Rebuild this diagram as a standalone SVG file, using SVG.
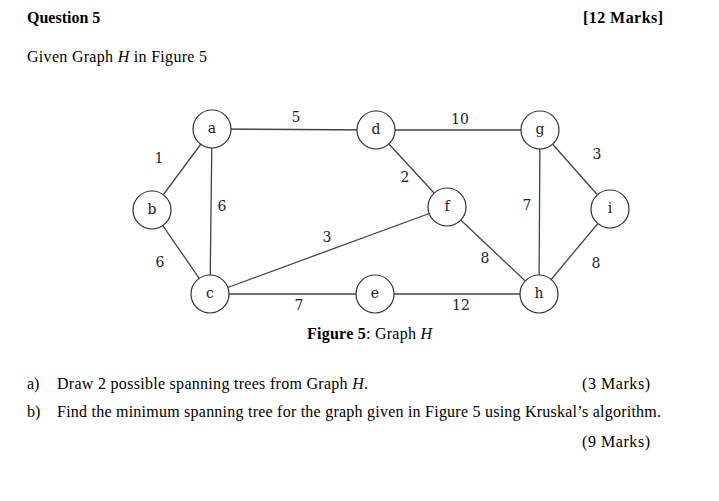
<svg xmlns="http://www.w3.org/2000/svg" width="719" height="501" viewBox="0 0 719 501">
<style>
.t{font-family:"Liberation Serif","Times New Roman",serif;font-size:16px;fill:#000}
.b{font-weight:bold}
.n circle{fill:#fff;stroke:#333;stroke-width:1.2}
.n text,.w{font-family:"DejaVu Serif",serif;font-size:14px;fill:#222;text-anchor:middle}
.e line{stroke:#444;stroke-width:1.3}
</style>
<rect width="719" height="501" fill="#fff"/>
<text class="t b" x="27" y="23">Question 5</text>
<text class="t b" x="663" y="23" text-anchor="end" textLength="80">[12 Marks]</text>
<text class="t" x="27" y="62" textLength="180">Given Graph <tspan font-style="italic">H</tspan> in Figure 5</text>
<g class="e" id="edges">
<line x1="212" y1="129" x2="376" y2="130"/>
<line x1="376" y1="130" x2="540" y2="130"/>
<line x1="212" y1="129" x2="152" y2="210"/>
<line x1="152" y1="210" x2="210" y2="294"/>
<line x1="212" y1="129" x2="210" y2="294"/>
<line x1="210" y1="294" x2="447" y2="207"/>
<line x1="210" y1="294" x2="375" y2="294"/>
<line x1="375" y1="294" x2="539" y2="294"/>
<line x1="376" y1="130" x2="447" y2="207"/>
<line x1="447" y1="207" x2="539" y2="294"/>
<line x1="540" y1="130" x2="539" y2="294"/>
<line x1="540" y1="130" x2="610" y2="209"/>
<line x1="610" y1="209" x2="539" y2="294"/>
</g>
<g id="weights">
<text class="w" x="296" y="122">5</text>
<text class="w" x="460" y="124">10</text>
<text class="w" x="159" y="163">1</text>
<text class="w" x="222" y="211">6</text>
<text class="w" x="160" y="267">6</text>
<text class="w" x="327" y="242">3</text>
<text class="w" x="299" y="310">7</text>
<text class="w" x="405" y="182">2</text>
<text class="w" x="597" y="159">3</text>
<text class="w" x="527" y="210">7</text>
<text class="w" x="485" y="263">8</text>
<text class="w" x="596" y="268">8</text>
<text class="w" x="461" y="310">12</text>
</g>
<g class="n" id="node-a"><circle cx="212" cy="129" r="19"/><text x="212" y="133">a</text></g>
<g class="n" id="node-b"><circle cx="152" cy="210" r="19"/><text x="152" y="214">b</text></g>
<g class="n" id="node-c"><circle cx="210" cy="294" r="19"/><text x="210" y="298">c</text></g>
<g class="n" id="node-d"><circle cx="376" cy="130" r="19"/><text x="376" y="134">d</text></g>
<g class="n" id="node-e"><circle cx="375" cy="294" r="19"/><text x="375" y="298">e</text></g>
<g class="n" id="node-f"><circle cx="447" cy="207" r="19"/><text x="447" y="211">f</text></g>
<g class="n" id="node-g"><circle cx="540" cy="130" r="19"/><text x="540" y="134">g</text></g>
<g class="n" id="node-h"><circle cx="539" cy="294" r="19"/><text x="539" y="298">h</text></g>
<g class="n" id="node-i"><circle cx="610" cy="209" r="19"/><text x="610" y="213">i</text></g>
<text class="t" x="307" y="339" textLength="125"><tspan class="b">Figure 5</tspan>: Graph <tspan font-style="italic">H</tspan></text>
<text class="t" x="27" y="389">a)</text>
<text class="t" x="57" y="389" textLength="311">Draw 2 possible spanning trees from Graph <tspan font-style="italic">H</tspan>.</text>
<text class="t" x="582" y="389" textLength="68">(3 Marks)</text>
<text class="t" x="27" y="417">b)</text>
<text class="t" x="57" y="417" textLength="604">Find the minimum spanning tree for the graph given in Figure 5 using Kruskal’s algorithm.</text>
<text class="t" x="582" y="447" textLength="68">(9 Marks)</text>
</svg>
